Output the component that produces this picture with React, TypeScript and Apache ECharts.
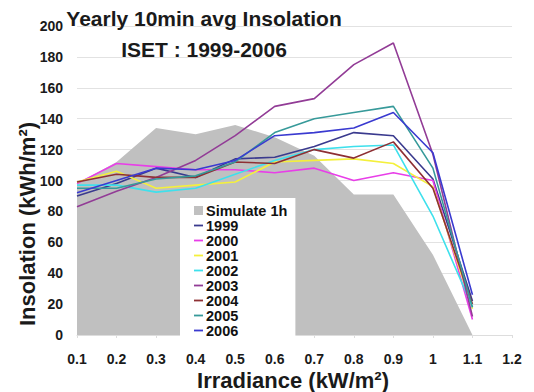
import React, { useEffect, useRef } from "react";
import * as echarts from "echarts";

// Irradiance classes (kW/m²)
const irradiance = ["0.1", "0.2", "0.3", "0.4", "0.5", "0.6", "0.7", "0.8", "0.9", "1", "1.1", "1.2"];

// Simulated 1h insolation (kWh/m²) per irradiance class
const simulate1h = [98, 112, 134, 130, 136, 128, 116, 91, 91, 52, 0];

// Measured yearly insolation from 10-minute averages (kWh/m²)
const y1999 = [90, 98, 108, 102, 114, 115, 122, 131, 129, 101, 22];
const y2000 = [98, 111, 109, 107, 107, 105, 108, 100, 105, 100, 10];
const y2001 = [99, 106, 95, 97, 99, 112, 113, 114, 111, 96, 17];
const y2002 = [97, 97, 92.5, 95, 104, 113, 120, 122, 123, 77, 18];
const y2003 = [83, 93, 102, 113, 129, 148, 153, 175, 189, 117, 12];
const y2004 = [99, 104, 102, 102, 112, 111, 120, 114.5, 125, 95, 20];
const y2005 = [95, 95, 101, 103, 112, 131, 140, 144, 148, 108, 18];
const y2006 = [92, 100, 108, 107, 113, 129, 131, 134, 144, 118, 26];

const yTicks = { min: 0, max: 200, interval: 20 };

const years = [
  { name: "1999", data: y1999, color: "#3a3a8e" },
  { name: "2000", data: y2000, color: "#e83ee8" },
  { name: "2001", data: y2001, color: "#f4f03c" },
  { name: "2002", data: y2002, color: "#3ee0ec" },
  { name: "2003", data: y2003, color: "#923c96" },
  { name: "2004", data: y2004, color: "#8e3034" },
  { name: "2005", data: y2005, color: "#379a9a" },
  { name: "2006", data: y2006, color: "#3a3ad0" },
];

const FONT = "'Liberation Sans', Arial, sans-serif";
// short horizontal dash used as the legend marker of each year
const DASH_ICON = "path://M0,0 L10,0 L10,2 L0,2 Z";

export default function App() {
  const ref = useRef<HTMLDivElement>(null);

  useEffect(() => {
    if (!ref.current) return;
    const chart = echarts.init(ref.current, null, { renderer: "svg" });

    const option = {
      animation: false,
      backgroundColor: "#ffffff",
      textStyle: { fontFamily: FONT },
      title: {
        text: "Yearly 10min avg Insolation\nISET : 1999-2006",
        left: 204,
        top: 3,
        padding: 0,
        textAlign: "center",
        textStyle: {
          fontFamily: FONT,
          fontSize: 21,
          fontWeight: "bold",
          color: "#1a1a1a",
          lineHeight: 31,
        },
      },
      grid: { left: 77, right: 22, top: 26, bottom: 57 },
      legend: {
        orient: "vertical",
        left: 180,
        top: 198,
        backgroundColor: "#ffffff",
        padding: [5, 8, 4, 14],
        itemGap: 0,
        itemWidth: 9,
        itemHeight: 9,
        textStyle: {
          fontFamily: FONT,
          fontSize: 14.5,
          fontWeight: "bold",
          color: "#111",
          lineHeight: 14,
          padding: [0, 0, 0, -2],
        },
        data: [
          { name: "Simulate 1h", icon: "rect" },
          ...years.map((y) => ({ name: y.name, icon: DASH_ICON })),
        ],
      },
      xAxis: {
        type: "category",
        data: irradiance,
        boundaryGap: false,
        axisLine: { lineStyle: { color: "#dddddd", width: 1 } },
        axisTick: { show: true, length: 3, lineStyle: { color: "#dddddd" } },
        axisLabel: {
          margin: 17,
          fontFamily: FONT,
          fontSize: 14,
          fontWeight: "bold",
          color: "#1a1a1a",
        },
        splitLine: { show: false },
      },
      yAxis: {
        type: "value",
        min: yTicks.min,
        max: yTicks.max,
        interval: yTicks.interval,
        axisLine: { show: false },
        axisTick: { show: false },
        axisLabel: {
          margin: 14,
          fontFamily: FONT,
          fontSize: 14,
          fontWeight: "bold",
          color: "#1a1a1a",
        },
        splitLine: { lineStyle: { color: "#e2e2e2", width: 1 } },
      },
      graphic: [
        {
          type: "text",
          x: 27,
          y: 224,
          rotation: Math.PI / 2,
          z: 10,
          style: {
            text: "Insolation (kWh/m²)",
            font: `bold 22px ${FONT}`,
            fill: "#1a1a1a",
            textAlign: "center",
            textVerticalAlign: "middle",
          },
        },
        {
          type: "text",
          x: 293,
          y: 380,
          z: 10,
          style: {
            text: "Irradiance (kW/m²)",
            font: `bold 22px ${FONT}`,
            fill: "#1a1a1a",
            textAlign: "center",
            textVerticalAlign: "middle",
          },
        },
      ],
      series: [
        {
          name: "Simulate 1h",
          type: "line",
          data: simulate1h,
          color: "#c0c0c0",
          symbol: "none",
          lineStyle: { width: 0, color: "#c0c0c0" },
          areaStyle: { color: "#c0c0c0", opacity: 1 },
          z: 1,
        },
        ...years.map((y) => ({
          name: y.name,
          type: "line",
          data: y.data,
          color: y.color,
          symbol: "none",
          lineStyle: { width: 1.6, color: y.color },
          z: 2,
        })),
      ],
    };

    chart.setOption(option);
    return () => chart.dispose();
  }, []);

  return (
    <div
      ref={ref}
      style={{ position: "absolute", left: 0, top: 0, width: 534, height: 392 }}
    />
  );
}
